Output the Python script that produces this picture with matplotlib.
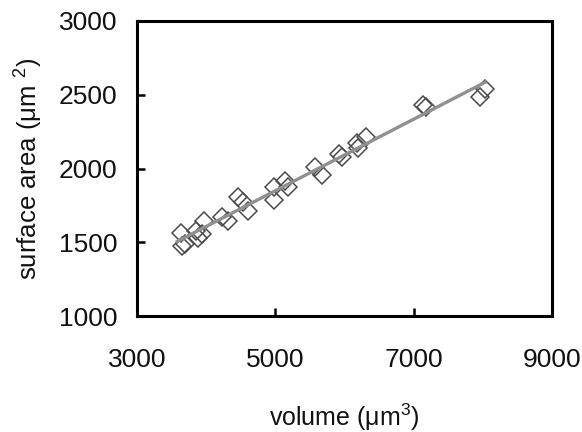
import numpy as np
import matplotlib
matplotlib.use("Agg")
import matplotlib.pyplot as plt

plt.rcParams['font.family'] = ['Liberation Sans', 'DejaVu Sans']
plt.rcParams['mathtext.fontset'] = 'custom'
plt.rcParams['mathtext.rm'] = 'Liberation Sans'

# volume (um^3) and surface area (um^2)
volume = [3633, 3644, 3687, 3848, 3875, 3945, 3966, 4224, 4315, 4465, 4530, 4600,
          4975, 4975, 5136, 5190, 5576, 5673, 5914, 5968, 6183, 6199, 6317,
          7138, 7176, 7954, 8034]
area = [1562, 1476, 1491, 1578, 1532, 1555, 1641, 1673, 1645, 1804, 1770, 1709,
        1786, 1872, 1917, 1872, 2008, 1958, 2098, 2080, 2171, 2139, 2212,
        2431, 2416, 2484, 2540]

x_ticks = [3000, 5000, 7000, 9000]
y_ticks = [1000, 1500, 2000, 2500, 3000]

fig = plt.figure(figsize=(5.82, 4.32), dpi=100)
ax = fig.add_axes([137 / 582, 1 - 316 / 432, 415 / 582, 295 / 432])

# linear fit through the points
v = np.array(volume, dtype=float)
a = np.array(area, dtype=float)
k, b = np.polyfit(v, a, 1)
xs = np.array([v.min() - 50, v.max()])
ax.plot(xs, k * xs + b, color='#909090', lw=2.4, zorder=3)

ax.plot(v, a, 'D', ms=9, mfc='none', mec='#4a4a4a', mew=1.1, zorder=2)

ax.set_xlim(3000, 9000)
ax.set_ylim(1000, 3000)
ax.set_xticks(x_ticks)
ax.set_yticks(y_ticks)
ax.tick_params(axis='both', direction='in', length=6, width=1.8, color='black',
               labelsize=19, labelcolor='#111111')
ax.tick_params(axis='x', pad=23, top=False)
ax.tick_params(axis='y', pad=14, right=False)
for sp in ax.spines.values():
    sp.set_linewidth(2.2)
    sp.set_color('black')

ax.set_xlabel(r'volume (μm$^{3}$)', fontsize=18, color='#111111')
ax.set_ylabel(r'surface area (μm $^{2}$)', fontsize=18.5, color='#111111')
ax.xaxis.set_label_coords(0.5, -0.29)
ax.yaxis.set_label_coords(-0.225, 0.5)

fig.savefig('out.png', dpi=100)
